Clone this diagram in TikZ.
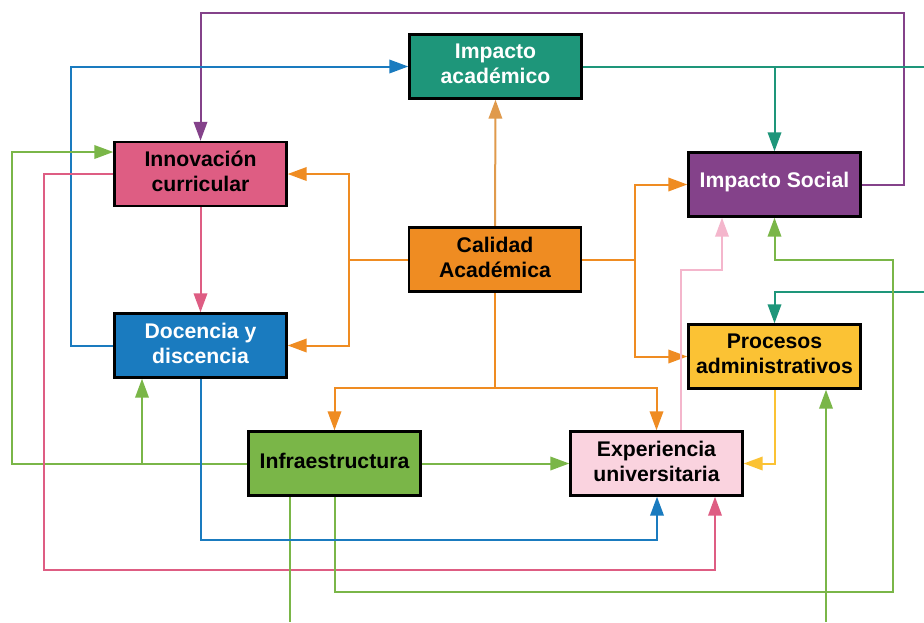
\documentclass[tikz,border=0pt]{standalone}
\usepackage{fontspec}
\setmainfont{Liberation Sans}
\usetikzlibrary{arrows.meta}

\definecolor{cTeal}{HTML}{1E967A}
\definecolor{cPink}{HTML}{DE5D83}
\definecolor{cOrange}{HTML}{EF8C22}
\definecolor{cTan}{HTML}{E09A4C}
\definecolor{cPurple}{HTML}{84428A}
\definecolor{cBlue}{HTML}{1A7BBF}
\definecolor{cGreen}{HTML}{7AB648}
\definecolor{cYellow}{HTML}{FBC234}
\definecolor{cLight}{HTML}{FAD3DF}
\definecolor{cLightLine}{HTML}{F4B6CC}

\tikzset{
  box/.style={draw=black, line width=2.4pt, minimum width=172pt, minimum height=64pt,
    inner sep=0pt},
  txt/.style={inner sep=0pt, align=center, yshift=2.5pt,
    font=\fontsize{21.2}{25}\selectfont\bfseries},
  link/.style={line width=2pt},
  arr/.style={link, -{Triangle[length=19pt,width=13.5pt]}},
}

\begin{document}
\begin{tikzpicture}[x=1pt,y=-1pt]
\useasboundingbox (0,0) rectangle (924,622);
\fill[white] (0,0) rectangle (924,622);

% box outlines (named, used as connector ends)
\node[box] (ia)  at (495.5,66.5)  {};
\node[box] (inn) at (200.5,174)   {};
\node[box] (cal) at (495,259.5)   {};
\node[box] (soc) at (774.5,184.5) {};
\node[box] (doc) at (200.5,345.5) {};
\node[box] (inf) at (334.5,463.5) {};
\node[box] (pro) at (774.5,356.5) {};
\node[box] (exp) at (656.5,463.5) {};

% waypoints
\coordinate (pT)  at (904,13);
\coordinate (bL)  at (71,66.5);
\coordinate (gL)  at (12,152);
\coordinate (gB)  at (142,463.5);
\coordinate (pL)  at (44,570);
\coordinate (pR)  at (715,570);
\coordinate (oL)  at (349,259.5);
\coordinate (oR)  at (635,259.5);
\coordinate (oB)  at (495,388);
\coordinate (tE)  at (924,66.5);
\coordinate (tE2) at (924,292);
\coordinate (lp1) at (681,270);
\coordinate (lp2) at (722,270);
\coordinate (gR)  at (893,592);
\coordinate (gT)  at (893,260);
\coordinate (gD)  at (290,622);
\coordinate (gU)  at (826,622);
\coordinate (bB)  at (657,540);

% connectors
\draw[arr, cPurple] (soc.east) -| (pT) -| (inn.north);
\draw[arr, cBlue] (doc.west) -| (bL) -- (ia.west);
\draw[arr, cGreen] (inf.west) -| (gL) -- (inn.west |- gL);
\draw[arr, cGreen] (gB) -- (doc.south -| gB);
\draw[arr, cPink] (inn.west) -| (pL) -- (pR) -- (exp.south -| pR);
\draw[arr, cPink] (inn.south) -- (doc.north);
\draw[arr, cOrange] (cal.west) -- (oL) |- (inn.east);
\draw[arr, cOrange] (oL) |- (doc.east);
\draw[arr, cTan] (cal.north) -- (ia.south);
\draw[arr, cOrange] (cal.east) -- (oR) |- (soc.west);
\draw[arr, cOrange] (oR) |- (pro.west);
\draw[arr, cOrange] (cal.south) -- (oB) -| (inf.north);
\draw[arr, cOrange] (oB) -| (exp.north);
\draw[link, cTeal] (ia.east) -- (tE);
\draw[arr, cTeal] (ia.east -| soc.north) -- (soc.north);
\draw[arr, cTeal] (tE2) -| (pro.north);
\draw[arr, cLightLine] (exp.north -| lp1) -- (lp1) -- (lp2) -- (soc.south -| lp2);
\draw[arr, cGreen] (inf.south) |- (gR) -- (gT) -| (soc.south);
\draw[arr, cGreen] (inf.east) -- (exp.west);
\draw[link, cGreen] (inf.south -| gD) -- (gD);
\draw[arr, cGreen] (gU) -- (pro.south -| gU);
\draw[arr, cBlue] (doc.south) |- (bB) -- (exp.south -| bB);
\draw[arr, cYellow] (pro.south) |- (exp.east);

% filled boxes above the connectors
\node[box, fill=cTeal]   at (ia)  {};
\node[box, fill=cPink]   at (inn) {};
\node[box, fill=cOrange] at (cal) {};
\node[box, fill=cPurple] at (soc) {};
\node[box, fill=cBlue]   at (doc) {};
\node[box, fill=cGreen]  at (inf) {};
\node[box, fill=cYellow] at (pro) {};
\node[box, fill=cLight]  at (exp) {};

% labels
\node[txt, text=white] (iaT)  at (ia)  {Impacto\\académico};
\node[txt]             (innT) at (inn) {Innovación\\curricular};
\node[txt]             (calT) at (cal) {Calidad\\Académica};
\node[txt, text=white] (socT) at (soc) {Impacto Social};
\node[txt, text=white] (docT) at (doc) {Docencia y\\discencia};
\node[txt]             (infT) at (inf) {Infraestructura};
\node[txt]             (proT) at (pro) {Procesos\\administrativos};
\node[txt]             (expT) at (exp) {Experiencia\\universitaria};
\end{tikzpicture}
\end{document}
